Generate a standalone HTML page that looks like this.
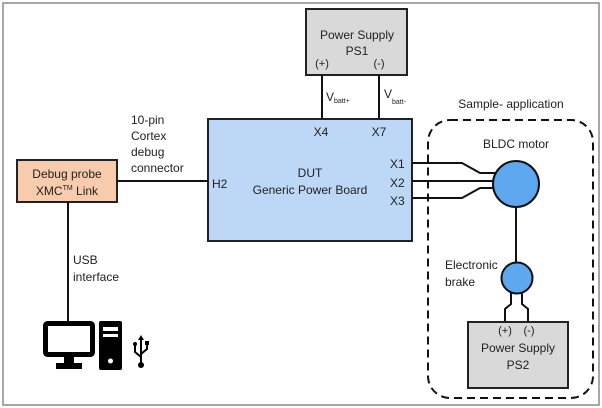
<!DOCTYPE html>
<html><head><meta charset="utf-8"><style>
body{margin:0;background:#fff}
svg{display:block}
text{font-family:"Liberation Sans",sans-serif;font-size:12px;fill:#222}
</style></head><body>
<svg width="602" height="408" viewBox="0 0 602 408" xmlns="http://www.w3.org/2000/svg">
<rect x="3" y="3" width="596" height="402" fill="#fff" stroke="#8a8a8a" stroke-width="1.5"/>
<!-- PS1 -->
<rect x="306" y="9" width="101" height="66" fill="#d9d9d9" stroke="#222" stroke-width="2"/>
<text x="357" y="39" text-anchor="middle">Power Supply</text>
<text x="357" y="55" text-anchor="middle">PS1</text>
<text x="322" y="67" text-anchor="middle" style="font-size:11px">(+)</text>
<text x="379" y="67" text-anchor="middle" style="font-size:11px">(-)</text>
<line x1="322" y1="75" x2="322" y2="119" stroke="#111" stroke-width="2"/>
<line x1="379" y1="75" x2="379" y2="119" stroke="#111" stroke-width="2"/>
<text x="326" y="101">V<tspan style="font-size:7px" dy="2">batt+</tspan></text>
<text x="384" y="98">V<tspan style="font-size:7px" dy="6">batt-</tspan></text>
<!-- DUT -->
<rect x="208" y="119" width="204" height="122" fill="#bdd7f7" stroke="#222" stroke-width="2"/>
<text x="321" y="136" text-anchor="middle">X4</text>
<text x="379" y="136" text-anchor="middle">X7</text>
<text x="310" y="177" text-anchor="middle">DUT</text>
<text x="310" y="194" text-anchor="middle">Generic Power Board</text>
<text x="212" y="188">H2</text>
<text x="390" y="168">X1</text>
<text x="390" y="187">X2</text>
<text x="390" y="205">X3</text>
<!-- probe -->
<rect x="17" y="160" width="100" height="42" fill="#f8cbad" stroke="#222" stroke-width="2"/>
<text x="67" y="178" text-anchor="middle">Debug probe</text>
<text x="67" y="195" text-anchor="middle">XMC<tspan style="font-size:7px" dy="-5">TM</tspan><tspan dy="5"> Link</tspan></text>
<line x1="117" y1="181" x2="208" y2="181" stroke="#111" stroke-width="2"/>
<text x="131" y="124">10-pin</text>
<text x="131" y="140">Cortex</text>
<text x="131" y="156">debug</text>
<text x="131" y="172">connector</text>
<line x1="68" y1="202" x2="68" y2="321" stroke="#111" stroke-width="2"/>
<text x="73" y="264">USB</text>
<text x="73" y="281">interface</text>
<!-- computer -->
<rect x="45.5" y="323.5" width="47" height="31" fill="none" stroke="#000" stroke-width="5" rx="2"/>
<rect x="64" y="356" width="10" height="8" fill="#000"/>
<rect x="56" y="363" width="26" height="6" fill="#000"/>
<rect x="99" y="321" width="23" height="49" fill="#000" rx="2"/>
<rect x="103" y="327" width="15" height="4" fill="#fff"/>
<rect x="103" y="334" width="15" height="3" fill="#fff"/>
<circle cx="110.5" cy="361" r="2.5" fill="#fff"/>
<g stroke="#000" stroke-width="2" fill="none">
<line x1="141" y1="340" x2="141" y2="364"/>
<polyline points="135,345 135,352 141,357"/>
<polyline points="147,343 147,349 141,354"/>
</g>
<polygon points="141,335 138,340 144,340" fill="#000"/>
<circle cx="135" cy="344" r="2" fill="#000"/>
<rect x="145" y="341" width="4" height="4" fill="#000"/>
<circle cx="141" cy="365" r="3" fill="#000"/>
<!-- sample application -->
<rect x="428" y="120" width="165" height="278" rx="22" fill="none" stroke="#111" stroke-width="2" stroke-dasharray="8,5"/>
<text x="511" y="108" text-anchor="middle">Sample- application</text>
<text x="516" y="148" text-anchor="middle">BLDC motor</text>
<g stroke="#111" stroke-width="2" fill="none">
<polyline points="412,163 462,163 480,173 495,173"/>
<line x1="412" y1="181" x2="495" y2="181"/>
<polyline points="412,198 462,198 480,188 495,188"/>
<line x1="516" y1="205" x2="516" y2="263"/>
<polyline points="511,292 511,304 505,309 505,322"/>
<polyline points="522,292 522,304 528,309 528,322"/>
</g>
<circle cx="516" cy="184" r="23" fill="#5ea8f0" stroke="#111" stroke-width="2"/>
<circle cx="517" cy="278" r="15.5" fill="#5ea8f0" stroke="#111" stroke-width="2"/>
<text x="445" y="269">Electronic</text>
<text x="445" y="286">brake</text>
<rect x="468" y="322" width="100" height="66" fill="#d9d9d9" stroke="#222" stroke-width="2"/>
<text x="505" y="334" text-anchor="middle" style="font-size:11px">(+)</text>
<text x="529" y="334" text-anchor="middle" style="font-size:11px">(-)</text>
<text x="518" y="352" text-anchor="middle">Power Supply</text>
<text x="518" y="369" text-anchor="middle">PS2</text>
</svg>
</body></html>
